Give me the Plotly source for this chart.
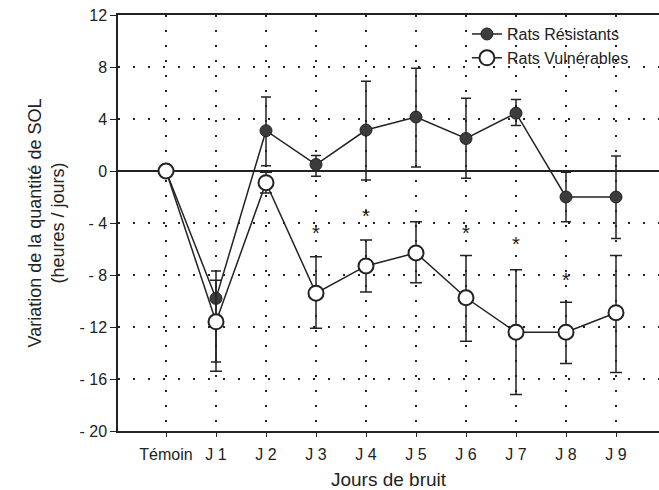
import plotly.graph_objects as go

categories = ["Témoin", "J 1", "J 2", "J 3", "J 4", "J 5", "J 6", "J 7", "J 8", "J 9"]
resist_mean = [0, -9.8, 3.1, 0.5, 3.15, 4.15, 2.5, 4.45, -2.0, -2.0]
resist_err_plus = [0, 2.1, 2.6, 0.7, 3.75, 3.75, 3.1, 1.05, 1.9, 3.15]
resist_err_minus = [0, 4.9, 2.7, 0.9, 3.85, 3.85, 3.05, 0.95, 1.9, 3.2]
vuln_mean = [0, -11.6, -0.9, -9.4, -7.3, -6.3, -9.75, -12.4, -12.4, -10.9]
vuln_err_plus = [0, 3.2, 0.8, 2.8, 2.0, 2.4, 3.25, 4.8, 2.3, 4.4]
vuln_err_minus = [0, 3.8, 0.8, 2.7, 2.0, 2.3, 3.35, 4.8, 2.4, 4.6]
star_cats = ["J 3", "J 4", "J 6", "J 7", "J 8"]
star_y = [-4.9, -3.6, -4.9, -5.8, -8.5]
ytick_vals = [12, 8, 4, 0, -4, -8, -12, -16, -20]
ytick_text = ["12", "8", "4", "0", "- 4", "- 8", "- 12", "- 16", "- 20"]

FONT = "Liberation Sans, Arial, sans-serif"
INK = "#222222"
xidx = list(range(len(categories)))
star_x = [categories.index(c) for c in star_cats]

fig = go.Figure()
fig.add_trace(go.Scatter(
    x=xidx, y=resist_mean, mode="lines+markers", name="Rats Résistants",
    line=dict(color=INK, width=1.5),
    marker=dict(symbol="circle", size=12, color="#3c3c3c", line=dict(color=INK, width=1)),
    error_y=dict(type="data", symmetric=False, array=resist_err_plus, arrayminus=resist_err_minus,
                 color=INK, thickness=1.5, width=5),
))
fig.add_trace(go.Scatter(
    x=xidx, y=vuln_mean, mode="lines+markers", name="Rats Vulnérables",
    line=dict(color=INK, width=1.5),
    marker=dict(symbol="circle", size=15, color="white", line=dict(color=INK, width=2)),
    error_y=dict(type="data", symmetric=False, array=vuln_err_plus, arrayminus=vuln_err_minus,
                 color=INK, thickness=1.5, width=6),
))
fig.add_trace(go.Scatter(
    x=star_x, y=star_y, mode="text", text=["*"] * len(star_x), showlegend=False,
    textfont=dict(family=FONT, size=20, color=INK), hoverinfo="skip",
))

fig.update_layout(
    width=659, height=490,
    margin=dict(l=118, r=0, t=15, b=59),
    paper_bgcolor="white", plot_bgcolor="white",
    font=dict(family=FONT, color=INK, size=16),
    legend=dict(x=0.645, y=0.995, xanchor="left", yanchor="top", bgcolor="rgba(0,0,0,0)",
                font=dict(size=16, family=FONT, color=INK), tracegroupgap=0, itemwidth=30),
    xaxis=dict(
        range=[-0.96, 9.86], tickmode="array", tickvals=xidx, ticktext=categories,
        showline=True, linecolor=INK, linewidth=1.5, mirror=True,
        ticks="outside", ticklen=4, tickcolor=INK, tickwidth=1, ticklabelstandoff=4,
        showgrid=True, gridcolor=INK, gridwidth=1.5, griddash="2px,13px",
        zeroline=False,
        title=dict(text="Jours de bruit", font=dict(size=19, family=FONT, color=INK), standoff=14),
        tickfont=dict(size=16, family=FONT, color=INK),
    ),
    yaxis=dict(
        range=[-20, 12], tickmode="array", tickvals=ytick_vals, ticktext=ytick_text,
        showline=True, linecolor=INK, linewidth=1.5,
        ticks="outside", ticklen=6, tickcolor=INK, tickwidth=1.2,
        showgrid=True, gridcolor=INK, gridwidth=1.5, griddash="2px,13px",
        zeroline=True, zerolinecolor=INK, zerolinewidth=1.5,
        title=dict(text="Variation de la quantité de SOL<br>(heures / jours)",
                   font=dict(size=18, family=FONT, color=INK), standoff=10),
        tickfont=dict(size=16, family=FONT, color=INK),
    ),
)

fig.write_html("out.html", config={"displayModeBar": False},
               post_script="document.body.style.margin='0';document.body.style.overflow='hidden';")
